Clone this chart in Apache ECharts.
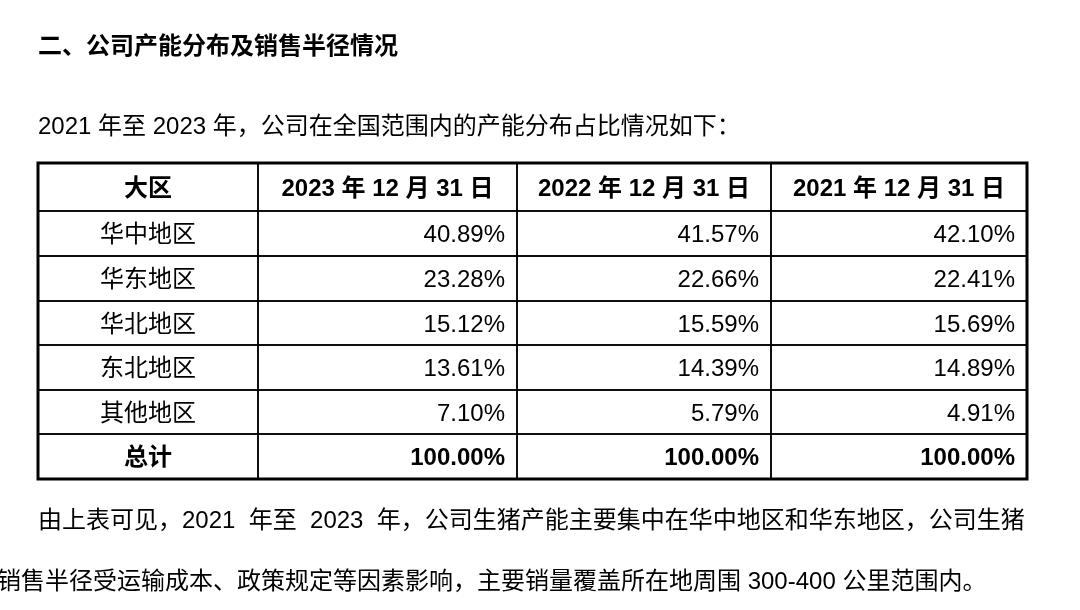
<!DOCTYPE html>
<html>
<head>
<meta charset="utf-8">
<script src="https://cdn.jsdelivr.net/npm/echarts@6/dist/echarts.min.js"></script>
<style>
  html, body { margin: 0; padding: 0; background: #fff; }
  #chart { width: 1080px; height: 610px; }
</style>
</head>
<body>
<div id="chart"></div>
<script>
// table content
const headers = ["大区", "2023 年 12 月 31 日", "2022 年 12 月 31 日", "2021 年 12 月 31 日"];
const regions = ["华中地区", "华东地区", "华北地区", "东北地区", "其他地区"];
const share2023 = [40.89, 23.28, 15.12, 13.61, 7.10];
const share2022 = [41.57, 22.66, 15.59, 14.39, 5.79];
const share2021 = [42.10, 22.41, 15.69, 14.89, 4.91];
const totalLabel = "总计";
const totals = [100.00, 100.00, 100.00];

// layout of the grid (axis units)
const colWidths = [220, 259, 254, 256];
const rowHeights = [48, 45, 45, 44, 45, 44, 45];

const FONT = "'Liberation Sans', 'Noto Sans CJK SC', sans-serif";

const colEdges = [0];
colWidths.forEach(w => colEdges.push(colEdges[colEdges.length - 1] + w));
const rowEdges = [0];
rowHeights.forEach(h => rowEdges.push(rowEdges[rowEdges.length - 1] + h));

// cells: [col, row, text, bold]
const cells = [];
headers.forEach((h, c) => cells.push([c, 0, h, 1]));
const cols = [share2023, share2022, share2021];
regions.forEach((name, i) => {
  cells.push([0, i + 1, name, 0]);
  cols.forEach((arr, j) => cells.push([j + 1, i + 1, arr[i].toFixed(2) + "%", 0]));
});
cells.push([0, regions.length + 1, totalLabel, 1]);
totals.forEach((v, j) => cells.push([j + 1, regions.length + 1, v.toFixed(2) + "%", 1]));

const chart = echarts.init(document.getElementById("chart"));

function renderCell(params, api) {
  const c = api.value(0), r = api.value(1);
  const item = cells[params.dataIndex];
  const p0 = api.coord([colEdges[c], rowEdges[r]]);
  const p1 = api.coord([colEdges[c + 1], rowEdges[r + 1]]);
  const centered = c === 0 || r === 0;
  return {
    type: "group",
    children: [
      {
        type: "rect",
        shape: { x: p0[0], y: p0[1], width: p1[0] - p0[0], height: p1[1] - p0[1] },
        style: { fill: null, stroke: "#000", lineWidth: 1.5 }
      },
      {
        type: "text",
        style: {
          text: item[2],
          x: centered ? (p0[0] + p1[0]) / 2 : p1[0] - 12,
          y: (p0[1] + p1[1]) / 2 + 2,
          align: centered ? "center" : "right",
          verticalAlign: "middle",
          fontSize: 24,
          fontWeight: item[3] ? "bold" : "normal",
          fontFamily: FONT,
          fill: "#000"
        }
      }
    ]
  };
}

const textBase = { fontFamily: FONT, fontSize: 24, color: "#000" };

chart.setOption({
  backgroundColor: "#fff",
  animation: false,
  title: [
    { text: "二、公司产能分布及销售半径情况", left: 38, top: 35, padding: 0,
      textStyle: Object.assign({}, textBase, { fontWeight: "bold" }) },
    { text: "2021 年至 2023 年，公司在全国范围内的产能分布占比情况如下：", left: 38, top: 115, padding: 0,
      textStyle: Object.assign({}, textBase, { fontWeight: "normal" }) },
    { text: "由上表可见，2021  年至  2023  年，公司生猪产能主要集中在华中地区和华东地区，公司生猪", left: 38, top: 509, padding: 0,
      textStyle: Object.assign({}, textBase, { fontWeight: "normal" }) },
    { text: "销售半径受运输成本、政策规定等因素影响，主要销量覆盖所在地周围 300-400 公里范围内。", left: -3, top: 570, padding: 0,
      textStyle: Object.assign({}, textBase, { fontWeight: "normal" }) }
  ],
  grid: {
    left: 38, top: 163, width: colEdges[colEdges.length - 1], height: rowEdges[rowEdges.length - 1],
    show: true, borderColor: "#000", borderWidth: 3, backgroundColor: "transparent"
  },
  xAxis: { type: "value", min: 0, max: colEdges[colEdges.length - 1], show: false },
  yAxis: { type: "value", min: 0, max: rowEdges[rowEdges.length - 1], inverse: true, show: false },
  series: [{
    type: "custom",
    renderItem: renderCell,
    data: cells.map(d => [d[0], d[1]]),
    silent: true,
    clip: false
  }]
});
</script>
</body>
</html>
